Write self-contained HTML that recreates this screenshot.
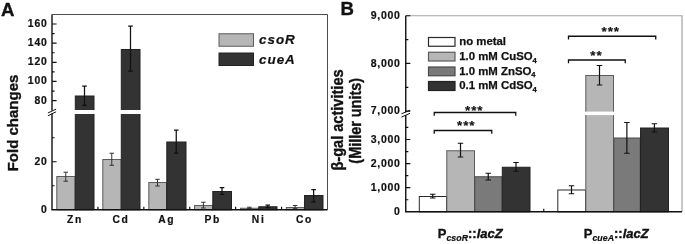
<!DOCTYPE html>
<html><head><meta charset="utf-8"><title>Figure</title><style>
html,body{margin:0;padding:0;background:#fff;}
svg{display:block;filter:grayscale(1)}
text{font-family:"Liberation Sans", sans-serif;font-weight:bold;fill:#111;stroke:#111;stroke-width:0.35px;}
.tk{font-size:10.4px;letter-spacing:0.8px;stroke-width:0.2px}
.tkB{font-size:10.5px;letter-spacing:0.65px;stroke-width:0.2px}
.xl{font-size:10.3px;letter-spacing:1.6px;stroke-width:0.2px}
.yl{font-size:15px}
.ylB{font-size:14.8px}
.lgA{font-size:13.4px;font-style:italic;letter-spacing:1.0px;stroke-width:0.2px}
.lgB{font-size:11.4px;stroke-width:0.25px}
.sub{font-size:7.6px}
.pl{font-size:18.6px}
.st{font-size:13.4px;letter-spacing:0.9px;stroke-width:0.15px}
.xlB{font-size:13px}
.xsub{font-size:8.8px;font-style:italic;stroke-width:0.2px}
</style></head>
<body><svg width="685" height="244" viewBox="0 0 685 244">
<rect width="685" height="244" fill="#fff"/>
<rect x="56.80" y="176.50" width="18.20" height="33.25" fill="#b6b6b6" stroke="#5c5c5c" stroke-width="1"/>
<rect x="75.30" y="96.00" width="18.70" height="113.75" fill="#333333" stroke="#222222" stroke-width="1"/>
<rect x="74.00" y="110.00" width="21.00" height="4.00" fill="#fff"/>
<rect x="102.80" y="159.50" width="18.20" height="50.25" fill="#b6b6b6" stroke="#5c5c5c" stroke-width="1"/>
<rect x="121.30" y="49.50" width="18.70" height="160.25" fill="#333333" stroke="#222222" stroke-width="1"/>
<rect x="120.00" y="110.00" width="21.00" height="4.00" fill="#fff"/>
<rect x="148.80" y="182.50" width="17.70" height="27.25" fill="#b6b6b6" stroke="#5c5c5c" stroke-width="1"/>
<rect x="166.80" y="142.00" width="19.20" height="67.75" fill="#333333" stroke="#222222" stroke-width="1"/>
<rect x="194.55" y="205.50" width="17.95" height="4.25" fill="#b6b6b6" stroke="#5c5c5c" stroke-width="1"/>
<rect x="212.80" y="191.50" width="18.70" height="18.25" fill="#333333" stroke="#222222" stroke-width="1"/>
<rect x="240.55" y="208.25" width="17.95" height="1.50" fill="#b6b6b6" stroke="#5c5c5c" stroke-width="1"/>
<rect x="258.80" y="206.75" width="18.20" height="3.00" fill="#333333" stroke="#222222" stroke-width="1"/>
<rect x="286.30" y="207.50" width="17.95" height="2.25" fill="#b6b6b6" stroke="#5c5c5c" stroke-width="1"/>
<rect x="304.55" y="195.50" width="18.45" height="14.25" fill="#333333" stroke="#222222" stroke-width="1"/>
<path d="M65.75 172.20V181.20M63.50 172.20h4.5M63.50 181.20h4.5" stroke="#333" stroke-width="1.0" fill="none"/>
<path d="M84.50 86.00V105.25M82.20 86.00h4.6M82.20 105.25h4.6" stroke="#111" stroke-width="1.25" fill="none"/>
<path d="M111.75 153.25V165.25M109.50 153.25h4.5M109.50 165.25h4.5" stroke="#333" stroke-width="1.0" fill="none"/>
<path d="M130.50 26.00V71.00M128.20 26.00h4.6M128.20 71.00h4.6" stroke="#111" stroke-width="1.25" fill="none"/>
<path d="M157.50 179.30V186.00M155.25 179.30h4.5M155.25 186.00h4.5" stroke="#333" stroke-width="1.0" fill="none"/>
<path d="M176.25 130.00V153.00M173.95 130.00h4.6M173.95 153.00h4.6" stroke="#111" stroke-width="1.25" fill="none"/>
<path d="M203.38 202.25V208.00M201.12 202.25h4.5M201.12 208.00h4.5" stroke="#333" stroke-width="1.0" fill="none"/>
<path d="M222.00 187.50V194.25M219.70 187.50h4.6M219.70 194.25h4.6" stroke="#111" stroke-width="1.25" fill="none"/>
<path d="M249.38 207.20V208.40M247.12 207.20h4.5M247.12 208.40h4.5" stroke="#333" stroke-width="1.0" fill="none"/>
<path d="M267.75 205.00V207.50M265.45 205.00h4.6M265.45 207.50h4.6" stroke="#111" stroke-width="1.25" fill="none"/>
<path d="M295.12 205.50V208.60M292.88 205.50h4.5M292.88 208.60h4.5" stroke="#333" stroke-width="1.0" fill="none"/>
<path d="M313.62 189.50V201.75M311.32 189.50h4.6M311.32 201.75h4.6" stroke="#111" stroke-width="1.25" fill="none"/>
<path d="M52.0 14.5V209.75H327.5" stroke="#111111" stroke-width="1.4" fill="none"/>
<path d="M52.0 14.5H327.5V209.75" stroke="#3a3a3a" stroke-width="0.9" fill="none"/>
<rect x="50.0" y="110.6" width="4" height="2.8" fill="#fff"/>
<path d="M47.9 113.0l8.2 -3.9M47.9 115.8l8.2 -4.0" stroke="#111111" stroke-width="1" fill="none"/>
<path d="M52.0 24.00h4.6M52.0 43.15h4.6M52.0 62.30h4.6M52.0 81.45h4.6M52.0 100.60h4.6M52.0 33.58h2.6M52.0 52.73h2.6M52.0 71.88h2.6M52.0 91.03h2.6M52.0 161.75h4.6M52.0 185.75h2.6M52.0 137.75h2.6M97.92 209.75v-3M143.83 209.75v-3M189.75 209.75v-3M235.67 209.75v-3M281.58 209.75v-3" stroke="#111111" stroke-width="1.2" fill="none"/>
<text x="47.6" y="26.90" text-anchor="end" class="tk">160</text>
<text x="47.6" y="46.05" text-anchor="end" class="tk">140</text>
<text x="47.6" y="65.20" text-anchor="end" class="tk">120</text>
<text x="47.6" y="84.35" text-anchor="end" class="tk">100</text>
<text x="47.6" y="103.50" text-anchor="end" class="tk">80</text>
<text x="47.6" y="164.65" text-anchor="end" class="tk">20</text>
<text x="47.6" y="212.95" text-anchor="end" class="tk">0</text>
<text x="74.96" y="223" text-anchor="middle" class="xl">Zn</text>
<text x="120.88" y="223" text-anchor="middle" class="xl">Cd</text>
<text x="166.79" y="223" text-anchor="middle" class="xl">Ag</text>
<text x="212.71" y="223" text-anchor="middle" class="xl">Pb</text>
<text x="258.62" y="223" text-anchor="middle" class="xl">Ni</text>
<text x="304.54" y="223" text-anchor="middle" class="xl">Co</text>
<text transform="translate(17.7 123) rotate(-90)" text-anchor="middle" class="yl">Fold changes</text>
<rect x="219" y="33.75" width="34.5" height="12.5" fill="#b6b6b6" stroke="#5c5c5c" stroke-width="1"/>
<rect x="219" y="53" width="34.5" height="12.5" fill="#333333" stroke="#222222" stroke-width="1"/>
<text x="259" y="44.3" class="lgA">csoR</text>
<text x="259" y="63.5" class="lgA">cueA</text>
<text x="1.0" y="15.9" class="pl">A</text>
<text x="340.6" y="14.6" class="pl">B</text>
<rect x="419.30" y="196.50" width="27.20" height="15.30" fill="#ffffff" stroke="#2a2a2a" stroke-width="1"/>
<rect x="446.80" y="150.75" width="27.70" height="61.05" fill="#b6b6b6" stroke="#5c5c5c" stroke-width="1"/>
<rect x="474.80" y="176.75" width="27.20" height="35.05" fill="#7a7a7a" stroke="#4a4a4a" stroke-width="1"/>
<rect x="502.30" y="167.25" width="27.70" height="44.55" fill="#333333" stroke="#222222" stroke-width="1"/>
<rect x="557.80" y="190.00" width="27.70" height="21.80" fill="#ffffff" stroke="#2a2a2a" stroke-width="1"/>
<rect x="585.80" y="75.50" width="27.70" height="136.30" fill="#b6b6b6" stroke="#5c5c5c" stroke-width="1"/>
<rect x="584.50" y="111.60" width="30.00" height="3.50" fill="#fff"/>
<rect x="613.80" y="138.00" width="26.45" height="73.80" fill="#7a7a7a" stroke="#4a4a4a" stroke-width="1"/>
<rect x="640.55" y="128.00" width="27.95" height="83.80" fill="#333333" stroke="#222222" stroke-width="1"/>
<path d="M432.75 194.25V198.00M430.00 194.25h5.5M430.00 198.00h5.5" stroke="#111" stroke-width="1.2" fill="none"/>
<path d="M460.50 143.25V157.00M457.75 143.25h5.5M457.75 157.00h5.5" stroke="#111" stroke-width="1.2" fill="none"/>
<path d="M488.25 173.25V180.00M485.50 173.25h5.5M485.50 180.00h5.5" stroke="#111" stroke-width="1.2" fill="none"/>
<path d="M516.00 162.50V171.25M513.25 162.50h5.5M513.25 171.25h5.5" stroke="#111" stroke-width="1.2" fill="none"/>
<path d="M571.50 185.75V193.75M568.75 185.75h5.5M568.75 193.75h5.5" stroke="#111" stroke-width="1.2" fill="none"/>
<path d="M599.50 65.50V85.00M596.75 65.50h5.5M596.75 85.00h5.5" stroke="#111" stroke-width="1.2" fill="none"/>
<path d="M626.88 122.50V153.25M624.12 122.50h5.5M624.12 153.25h5.5" stroke="#111" stroke-width="1.2" fill="none"/>
<path d="M654.38 123.75V132.00M651.62 123.75h5.5M651.62 132.00h5.5" stroke="#111" stroke-width="1.2" fill="none"/>
<path d="M405.75 15.75H682.0V211.8" stroke="#a2a2a2" stroke-width="1.2" fill="none"/>
<path d="M405.75 15.75V211.8H682.0" stroke="#111111" stroke-width="1.4" fill="none"/>
<rect x="403.75" y="112.3" width="4" height="2.8" fill="#fff"/>
<path d="M401.45 113.8l8.6 -3.6M401.45 117.1l8.6 -3.8" stroke="#111111" stroke-width="1" fill="none"/>
<path d="M405.75 15.75h4.6M405.75 63.45h4.6M405.75 111.15h4.6M405.75 39.60h2.6M405.75 87.30h2.6M405.75 187.70h4.6M405.75 163.60h4.6M405.75 139.50h4.6M405.75 199.75h2.6M405.75 175.65h2.6M405.75 151.55h2.6M405.75 127.45h2.6M543.75 211.8v-3" stroke="#111111" stroke-width="1.2" fill="none"/>
<text x="400.4" y="18.95" text-anchor="end" class="tkB">9,000</text>
<text x="400.4" y="66.65" text-anchor="end" class="tkB">8,000</text>
<text x="400.4" y="114.35" text-anchor="end" class="tkB">7,000</text>
<text x="400.4" y="190.90" text-anchor="end" class="tkB">1,000</text>
<text x="400.4" y="166.80" text-anchor="end" class="tkB">2,000</text>
<text x="400.4" y="142.70" text-anchor="end" class="tkB">3,000</text>
<text x="400.6" y="214.50" text-anchor="end" class="tkB">0</text>
<text transform="translate(343.4 120.0) rotate(-90) scale(0.985 1.09)" text-anchor="middle" class="ylB">β-gal activities</text>
<text transform="translate(360.8 120.8) rotate(-90) scale(0.975 1.09)" text-anchor="middle" class="ylB">(Miller units)</text>
<rect x="428.5" y="37.5" width="26.5" height="8.75" fill="#ffffff" stroke="#2a2a2a" stroke-width="1.2"/>
<text x="459.2" y="45.15" class="lgB">no metal</text>
<rect x="428.5" y="52.25" width="26.5" height="8.75" fill="#b6b6b6" stroke="#5c5c5c" stroke-width="1.2"/>
<text x="459.2" y="59.90" class="lgB">1.0 mM CuSO<tspan class="sub" dy="2.6">4</tspan></text>
<rect x="428.5" y="67.0" width="26.5" height="8.75" fill="#7a7a7a" stroke="#4a4a4a" stroke-width="1.2"/>
<text x="459.2" y="74.65" class="lgB">1.0 mM ZnSO<tspan class="sub" dy="2.6">4</tspan></text>
<rect x="428.5" y="81.5" width="26.5" height="9" fill="#333333" stroke="#222222" stroke-width="1.2"/>
<text x="459.2" y="89.40" class="lgB">0.1 mM CdSO<tspan class="sub" dy="2.6">4</tspan></text>
<path d="M434.25 115.7V112.5H515.75V115.7" stroke="#111111" stroke-width="1.3" fill="none"/>
<text x="474.2" y="114.6" text-anchor="middle" class="st">***</text>
<path d="M434.25 133.7V130.5H491.75V133.7" stroke="#111111" stroke-width="1.3" fill="none"/>
<text x="466.2" y="130.3" text-anchor="middle" class="st">***</text>
<path d="M568.5 39.45V36.25H655.75V39.45" stroke="#111111" stroke-width="1.3" fill="none"/>
<text x="610.7" y="36.2" text-anchor="middle" class="st">***</text>
<path d="M568.5 63.2V60H625.25V63.2" stroke="#111111" stroke-width="1.3" fill="none"/>
<text x="596.4" y="60.2" text-anchor="middle" class="st">**</text>
<text x="437.8" y="237.8" class="xlB">P<tspan class="xsub" dy="3.2">csoR</tspan><tspan dy="-3.2">::</tspan><tspan font-style="italic">lacZ</tspan></text>
<text x="583.8" y="237.8" class="xlB">P<tspan class="xsub" dy="3.2">cueA</tspan><tspan dy="-3.2">::</tspan><tspan font-style="italic">lacZ</tspan></text>
</svg></body></html>
